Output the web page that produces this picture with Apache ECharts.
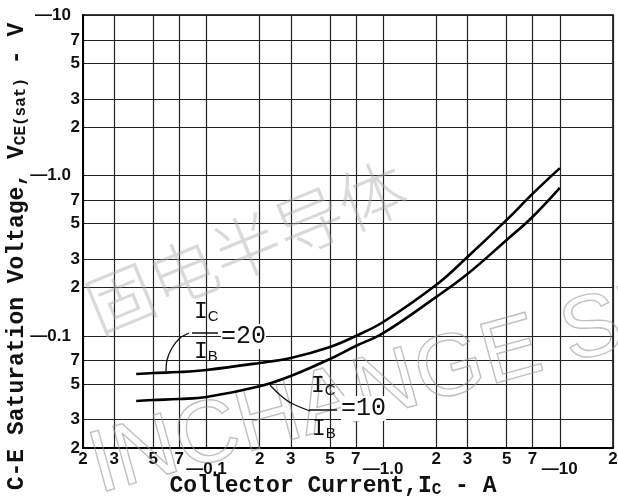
<!DOCTYPE html>
<html><head><meta charset="utf-8">
<script src="https://cdn.jsdelivr.net/npm/echarts@6/dist/echarts.min.js"></script>
<style>html,body{margin:0;padding:0;background:#fff}#c{width:618px;height:500px}</style>
</head><body><div id="c"></div>
<script>
const xTicks = [0.02,0.03,0.05,0.07,0.1,0.2,0.3,0.5,0.7,1,2,3,5,7,10,20];
const xTickLabels = ['2','3','5','7','—0.1','2','3','5','7','—1.0','2','3','5','7','—10','2'];
const yTicks = [0.02,0.03,0.05,0.07,0.1,0.2,0.3,0.5,0.7,1,2,3,5,7,10];
const yTickLabels = ['2','3','5','7','—0.1','2','3','5','7','—1.0','2','3','5','7','—10'];
const current = [0.04,0.05,0.07,0.1,0.2,0.3,0.5,0.7,1,2,3,5,7,10];
const vce20 = [0.0578,0.0587,0.0595,0.0613,0.0678,0.0728,0.0853,0.0998,0.122,0.208,0.31,0.528,0.767,1.11];
const vce10 = [0.0393,0.0398,0.0404,0.0416,0.0485,0.0562,0.0718,0.0865,0.104,0.175,0.243,0.396,0.551,0.836];

function lab(ticks, labels, v){
  let best = 0, bd = 1e9;
  ticks.forEach((t,i)=>{const d=Math.abs(Math.log10(t)-Math.log10(v)); if(d<bd){bd=d;best=i;}});
  const s = labels[best];
  return s.charAt(0)==='—' ? '{d|'+s+'}' : '{m|'+s+'}';
}
const tickFont = {fontFamily:'Liberation Sans', fontWeight:'bold', fontSize:17, color:'#111'};
const gridLine = {show:true, lineStyle:{color:'#222', width:1.2}};
const chart = echarts.init(document.getElementById('c'));
chart.setOption({
  animation:false,
  backgroundColor:'#fff',
  grid:{left:83, right:5, top:15, bottom:52, containLabel:false, outerBoundsMode:'none', show:true, borderColor:'#000', borderWidth:1.5},
  xAxis:{type:'log', logBase:10, min:0.02, max:20,
    axisLine:{show:true, onZero:false, lineStyle:{color:'#000', width:2}},
    axisTick:{show:false, customValues:xTicks},
    splitLine:gridLine,
    axisLabel:{customValues:xTicks, margin:3, hideOverlap:false, formatter:v=>lab(xTicks,xTickLabels,v),
      rich:{m:Object.assign({},tickFont), d:Object.assign({padding:[10,0,0,0]},tickFont)}},
    name:'{a|Collector Current,I}{s|C}{a| - A}', nameLocation:'middle', nameGap:26, nameMoveOverlap:false,
    nameTextStyle:{rich:{a:{fontFamily:'Liberation Mono', fontSize:23, color:'#111', fontWeight:'bold'},
      s:{fontFamily:'Liberation Mono', fontSize:16, color:'#111', fontWeight:'bold', padding:[8,0,0,0]}}, padding:[0,30,0,0]}
  },
  yAxis:{type:'log', logBase:10, min:0.02, max:10,
    axisLine:{show:true, onZero:false, lineStyle:{color:'#000', width:2}},
    axisTick:{show:false, customValues:yTicks},
    splitLine:gridLine,
    axisLabel:{customValues:yTicks, margin:3, hideOverlap:false, formatter:v=>lab(yTicks,yTickLabels,v),
      rich:{m:Object.assign({},tickFont), d:Object.assign({padding:[0,9,0,0]},tickFont)}},
    name:'{a|C-E Saturation Voltage, V}{s|CE(sat)}{a| - V}', nameLocation:'middle', nameGap:54, nameRotate:90, nameMoveOverlap:false,
    nameTextStyle:{rich:{a:{fontFamily:'Liberation Mono', fontSize:23, color:'#111', fontWeight:'bold'},
      s:{fontFamily:'Liberation Mono', fontSize:16, color:'#111', fontWeight:'bold', padding:[8,0,0,0]}}, padding:[0,50,0,0]}
  },
  series:[
    {type:'line', name:'IC/IB=20', data:current.map((x,i)=>[x,vce20[i]]), showSymbol:false, smooth:0.4,
     lineStyle:{color:'#000', width:2.6}, z:5},
    {type:'line', name:'IC/IB=10', data:current.map((x,i)=>[x,vce10[i]]), showSymbol:false, smooth:0.4,
     lineStyle:{color:'#000', width:2.6}, z:5}
  ],
  graphic:[
    {type:'text', rotation:0.39, x:76, y:280, z:1, silent:true,
     style:{text:'固电半导体', fontFamily:'Noto Sans CJK SC', fontWeight:300, fontSize:68, fill:'rgba(170,170,170,0.45)'}},
    {type:'text', rotation:0.27, x:104, y:512, z:1, silent:true,
     style:{text:'INCHANGE SE', fontFamily:'Liberation Sans', fontSize:88, fill:'rgba(255,255,255,0)', stroke:'rgba(150,150,150,0.6)', lineWidth:1.4, verticalAlign:'bottom'}},
    // Ic/Ib = 20 annotation
    {type:'text', x:194, y:300, z:10, style:{text:'{i|I}{s|C}', rich:{i:{fontFamily:'Liberation Mono', fontSize:23, fill:'#111'}, s:{fontFamily:'Liberation Sans', fontSize:15, fill:'#111', padding:[9,0,0,0]}}}},
    {type:'line', z:10, shape:{x1:192, y1:333, x2:218, y2:333}, style:{stroke:'#111', lineWidth:1.5}},
    {type:'text', x:194, y:340, z:10, style:{text:'{i|I}{s|B}', rich:{i:{fontFamily:'Liberation Mono', fontSize:23, fill:'#111'}, s:{fontFamily:'Liberation Sans', fontSize:15, fill:'#111', padding:[9,0,0,0]}}}},
    {type:'text', x:221, y:324, z:10, style:{text:'=20', fontFamily:'Liberation Mono', fontSize:25, fill:'#111', backgroundColor:'#fff'}},
    {type:'polyline', z:10, shape:{points:[[189,333],[180,338],[172,348],[167,360],[166,373]], smooth:0.3}, style:{stroke:'#111', lineWidth:1.3, fill:null}},
    // Ic/Ib = 10 annotation
    {type:'text', x:311, y:374, z:10, style:{text:'{i|I}{s|C}', rich:{i:{fontFamily:'Liberation Mono', fontSize:23, fill:'#111'}, s:{fontFamily:'Liberation Sans', fontSize:15, fill:'#111', padding:[9,0,0,0]}}}},
    {type:'line', z:10, shape:{x1:309, y1:410, x2:337, y2:410}, style:{stroke:'#111', lineWidth:1.5}},
    {type:'text', x:312, y:417, z:10, style:{text:'{i|I}{s|B}', rich:{i:{fontFamily:'Liberation Mono', fontSize:23, fill:'#111'}, s:{fontFamily:'Liberation Sans', fontSize:15, fill:'#111', padding:[9,0,0,0]}}}},
    {type:'text', x:341, y:396, z:10, style:{text:'=10', fontFamily:'Liberation Mono', fontSize:25, fill:'#111', backgroundColor:'#fff'}},
    {type:'polyline', z:10, shape:{points:[[270,385],[280,395],[291,403],[310,411]], smooth:0.3}, style:{stroke:'#111', lineWidth:1.3, fill:null}}
  ]
});
</script></body></html>
